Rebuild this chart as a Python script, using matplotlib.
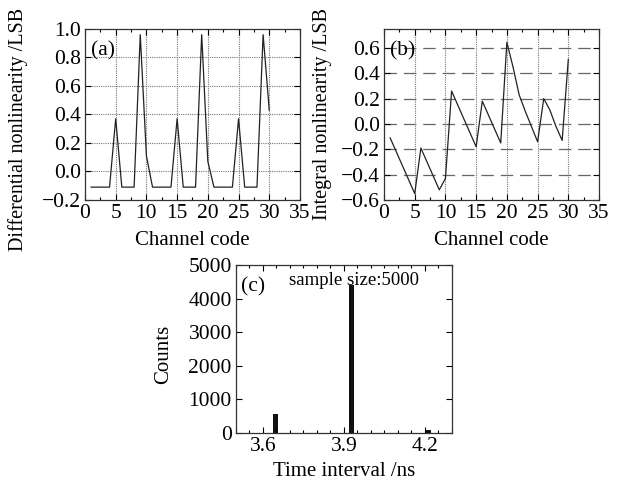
import matplotlib
matplotlib.use("Agg")
import matplotlib.pyplot as plt
from matplotlib.ticker import MultipleLocator

plt.rcParams['font.family'] = ['Liberation Serif', 'DejaVu Serif']

# ---- data ----
channels = list(range(1, 31))
dnl = [-0.11, -0.11, -0.11, -0.11, 0.37, -0.11, -0.11, -0.11, 0.96, 0.11,
       -0.11, -0.11, -0.11, -0.11, 0.37, -0.11, -0.11, -0.11, 0.96, 0.07,
       -0.11, -0.11, -0.11, -0.11, 0.37, -0.11, -0.11, -0.11, 0.96, 0.43]
inl = [-0.11, -0.22, -0.33, -0.44, -0.55, -0.19, -0.30, -0.41, -0.52, -0.43,
       0.26, 0.15, 0.04, -0.07, -0.18, 0.18, 0.07, -0.04, -0.15, 0.645,
       0.45, 0.23, 0.10, -0.02, -0.14, 0.20, 0.11, -0.02, -0.13, 0.51]
time_interval = [3.645, 3.929, 4.213]
counts = [555, 4405, 100]
hist_xticks = [3.6, 3.9, 4.2]
dnl_yticks = [-0.2, 0.0, 0.2, 0.4, 0.6, 0.8, 1.0]
inl_yticks = [-0.6, -0.4, -0.2, 0.0, 0.2, 0.4, 0.6]

FS = 15.5
LFS = 15
fig = plt.figure(figsize=(6.23, 4.83), dpi=100)

def fmt(v):
    s = f'{abs(v):.1f}'
    return ('\u2212' + s) if v < 0 else s

def style(ax):
    ax.tick_params(direction='in', which='both', top=True, right=True,
                   labelsize=FS, length=4, width=0.8, pad=3)
    ax.tick_params(which='minor', length=2.5)
    for s in ax.spines.values():
        s.set_linewidth(0.9)
        s.set_color('#333333')

# (a)
axa = fig.add_axes([0.1364, 0.586, 0.3451, 0.354])
axa.plot(channels, dnl, color='#222222', lw=0.9)
axa.set_xlim(0, 35)
axa.set_ylim(-0.2, 1.0)
axa.xaxis.set_major_locator(MultipleLocator(5))
axa.xaxis.set_minor_locator(MultipleLocator(2.5))
axa.set_yticks(dnl_yticks)
axa.set_yticklabels([fmt(v) for v in dnl_yticks])
for v in [5, 10, 15, 20, 25, 30]:
    axa.axvline(v, color='#777777', lw=0.8, ls=(0, (1, 1)), zorder=0)
for v in [0.0, 0.2, 0.4, 0.6, 0.8]:
    axa.axhline(v, color='#777777', lw=0.8, ls=(0, (1, 1)), zorder=0)
axa.set_xlabel('Channel code', fontsize=LFS, labelpad=6)
axa.set_ylabel('Differential nonlinearity /LSB', fontsize=14.5)
axa.yaxis.set_label_coords(-0.265, 0.415)
axa.text(0.03, 0.93, '(a)', transform=axa.transAxes, fontsize=FS, va='top', ha='left')
style(axa)

# (b)
axb = fig.add_axes([0.6164, 0.586, 0.3451, 0.354])
axb.plot(channels, inl, color='#222222', lw=0.9)
axb.set_xlim(0, 35)
axb.set_ylim(-0.6, 0.75)
axb.xaxis.set_major_locator(MultipleLocator(5))
axb.xaxis.set_minor_locator(MultipleLocator(2.5))
axb.set_yticks(inl_yticks)
axb.set_yticklabels([fmt(v) for v in inl_yticks])
for v in [5, 10, 15, 20, 25, 30]:
    axb.axvline(v, color='#777777', lw=0.8, ls=(0, (1, 1)), zorder=0)
for v in [-0.4, -0.2, 0.0, 0.2, 0.4, 0.6]:
    axb.axhline(v, color='#666666', lw=0.9, ls=(0, (10, 5.5)), zorder=0)
axb.set_xlabel('Channel code', fontsize=LFS, labelpad=6)
axb.set_ylabel('Integral nonlinearity /LSB', fontsize=14.5)
axb.yaxis.set_label_coords(-0.242, 0.5)
axb.text(0.03, 0.93, '(b)', transform=axb.transAxes, fontsize=FS, va='top', ha='left')
style(axb)

# (c)
axc = fig.add_axes([0.3788, 0.1035, 0.3467, 0.3478])
axc.bar(time_interval, counts, width=0.018, color='#111111')
axc.set_xlim(3.5, 4.3)
axc.set_ylim(0, 5000)
axc.set_xticks(hist_xticks)
axc.set_xticklabels(['3.6', '3.9', '4.2'])
axc.xaxis.set_minor_locator(MultipleLocator(0.05))
axc.yaxis.set_major_locator(MultipleLocator(1000))
axc.set_xlabel('Time interval /ns', fontsize=LFS, labelpad=4)
axc.set_ylabel('Counts', fontsize=LFS)
axc.yaxis.set_label_coords(-0.29, 0.47)
axc.text(0.025, 0.925, '(c)', transform=axc.transAxes, fontsize=FS, va='top', ha='left')
axc.text(0.546, 0.96, 'sample size:5000', transform=axc.transAxes, fontsize=13.5,
         va='top', ha='center')
style(axc)

fig.savefig('out.png', dpi=100)
